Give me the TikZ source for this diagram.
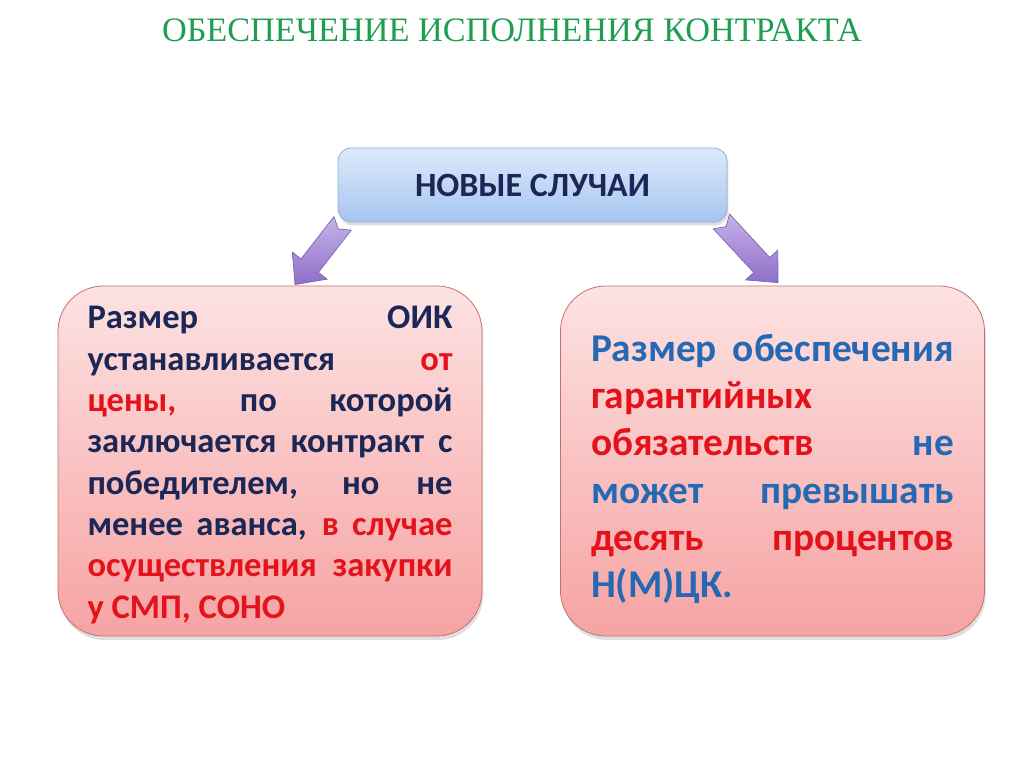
\documentclass[tikz,border=0pt]{standalone}
\usepackage{fontspec}
\setmainfont{Liberation Serif}
\newfontfamily\carlito{Carlito}
\usetikzlibrary{calc,shadows,backgrounds}
\setlength\parindent{0pt}

\definecolor{titlegreen}{HTML}{1E9E50}
\definecolor{navytxt}{HTML}{1B2757}
\definecolor{redtxt}{HTML}{E3121B}
\definecolor{bluetxt}{HTML}{2568B3}
\definecolor{casetop}{HTML}{DEEAFA}
\definecolor{casebot}{HTML}{A6C5F0}
\definecolor{caseline}{HTML}{8FAEDB}
\definecolor{pinktop}{HTML}{FDE2E2}
\definecolor{pinkbot}{HTML}{F6A3A3}
\definecolor{pinkline}{HTML}{C27070}
\definecolor{arrowtop}{HTML}{C6B3E8}
\definecolor{arrowbot}{HTML}{8E6FC9}
\definecolor{arrowline}{HTML}{7A62AE}

\newcommand\redw[1]{\textcolor{redtxt}{#1}}
\newcommand\bluew[1]{\textcolor{bluetxt}{#1}}
% justified line and plain line, with the font's own spaces
\newcommand\jline[1]{{\spaceskip=0pt\xspaceskip=0pt\makebox[\hsize][s]{#1}}}
\newcommand\lline[1]{{\spaceskip=0pt\xspaceskip=0pt #1}}

% block arrow with a notched tail, from #1 to #2
\newcommand\blockarrow[2]{%
  \coordinate (ab) at ($(#2)!18pt!(#1)$);
  \path[draw=arrowline, line width=0.5pt, top color=arrowtop, bottom color=arrowbot]
    ($(#1)!8.25pt!90:(#2)$) -- ($(#1)!5.25pt!(#2)$) -- ($(#1)!8.25pt!-90:(#2)$)
    -- ($(ab)!8.25pt!-90:(#2)$) -- ($(ab)!16.5pt!-90:(#2)$) -- (#2)
    -- ($(ab)!16.5pt!90:(#2)$) -- ($(ab)!8.25pt!90:(#2)$) -- cycle;
}

\begin{document}
\begin{tikzpicture}[x=0.75pt,y=-0.75pt,
  casebox/.style={draw=caseline, line width=0.6pt, top color=casetop, bottom color=casebot,
    rounded corners=10pt, minimum width=291.75pt, minimum height=55.5pt,
    drop shadow={shadow xshift=1pt, shadow yshift=-2.5pt, opacity=0.25},
    font=\carlito\bfseries\fontsize{25.5}{30}\selectfont, text=navytxt},
  pinkbox/.style={draw=pinkline, line width=0.6pt, top color=pinktop, bottom color=pinkbot,
    rounded corners=34pt, minimum width=318pt, minimum height=262.5pt,
    drop shadow={shadow xshift=1pt, shadow yshift=-3pt, opacity=0.25}},
  lefttext/.style={text width=273.75pt, inner sep=0pt, align=left, text=navytxt,
    font=\carlito\bfseries\fontsize{25.9}{31}\selectfont},
  righttext/.style={text width=272.25pt, inner sep=0pt, align=left, text=bluetxt,
    font=\carlito\bfseries\fontsize{29.5}{35.4}\selectfont}]
\useasboundingbox (0,0) rectangle (1024,767);

\node[text=titlegreen, font=\fontsize{25.7}{29}\selectfont] (title) at (512,30)
  {ОБЕСПЕЧЕНИЕ ИСПОЛНЕНИЯ КОНТРАКТА};

\node[casebox] (cases) at (532.5,185) {НОВЫЕ СЛУЧАИ};
\node[pinkbox] (left) at (270,461) {};
\node[pinkbox] (right) at (772.5,461) {};

% the texts
\node[lefttext] (ltext) at ([shift={(0,4)}]left.center) {%
  \jline{Размер ОИК}\\
  \jline{устанавливается \redw{от}}\\
  \jline{\redw{цены,} по которой}\\
  \jline{заключается контракт с}\\
  \jline{победителем, но не}\\
  \jline{менее аванса, \redw{в} \redw{случае}}\\
  \jline{\redw{осуществления} \redw{закупки}}\\
  \lline{\redw{у СМП, СОНО}}};
\node[righttext] (rtext) at ([shift={(0,8)}]right.center) {%
  \jline{Размер обеспечения}\\
  \redw{гарантийных}\\
  \jline{\redw{обязательств} не}\\
  \jline{может превышать}\\
  \jline{\redw{десять} \redw{процентов}}\\
  Н(М)ЦК.};

% the arrows
\coordinate (ltail) at ([shift={(5,1)}]cases.south west);
\coordinate (ltip) at ([shift={(25,-1)}]left.north);
\coordinate (rtail) at ([shift={(-6,-1)}]cases.south east);
\coordinate (rtip) at ([shift={(5.5,-3)}]right.north);
\begin{scope}[on background layer]
\fill[white] (0,0) rectangle (1024,767);
\blockarrow{ltail}{ltip}
\blockarrow{rtail}{rtip}
\end{scope}
\end{tikzpicture}
\end{document}
